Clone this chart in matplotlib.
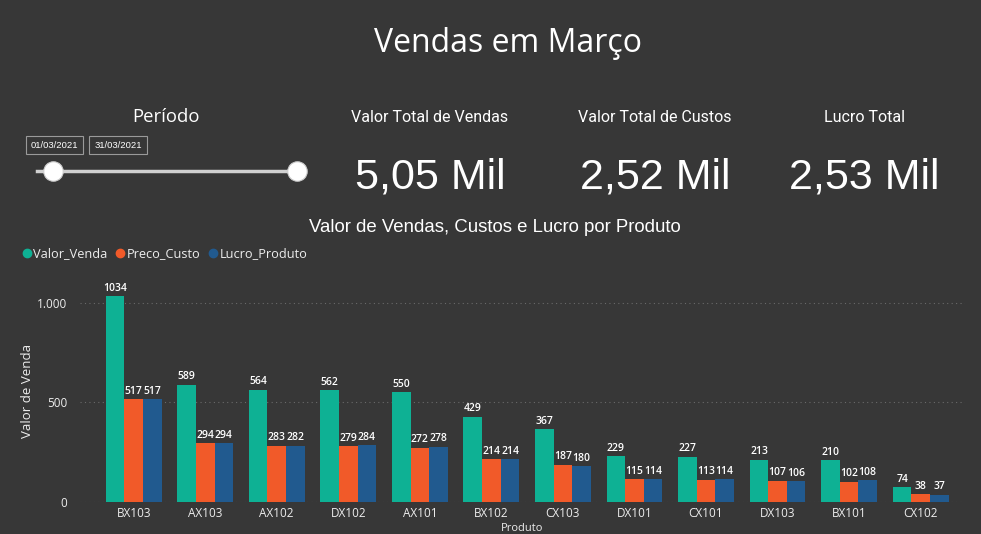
import numpy as np
import matplotlib.pyplot as plt
from matplotlib.patches import Rectangle
from matplotlib.lines import Line2D

produtos = ["BX103", "AX103", "AX102", "DX102", "AX101", "BX102",
            "CX103", "DX101", "CX101", "DX103", "BX101", "CX102"]
valor_venda = [1034, 589, 564, 562, 550, 429, 367, 229, 227, 213, 210, 74]
preco_custo = [517, 294, 283, 279, 272, 214, 187, 115, 113, 107, 102, 38]
lucro_produto = [517, 294, 282, 284, 278, 214, 180, 114, 114, 106, 108, 37]
series_names = ["Valor_Venda", "Preco_Custo", "Lucro_Produto"]
data_inicio = "01/03/2021"
data_fim = "31/03/2021"

BG = "#373737"
colors = ["#0EB194", "#F15A29", "#215A8F"]
TXT = "#EDEDED"

def fmt_mil(v):
    return f"{v / 1000:.2f}".replace(".", ",") + " Mil"

fig = plt.figure(figsize=(9.81, 5.34), dpi=100, facecolor=BG)

def px(x, y):
    return x / 981, 1 - y / 534

# header
fig.text(*px(508, 44), "Vendas em Março", ha="center", va="center",
         fontsize=23, color="white", family="Open Sans")

# period slicer
fig.text(*px(166, 117), "Período", ha="center", va="center",
         fontsize=13.3, color="white", family="Open Sans")
for x0, x1, lab in [(26, 83, data_inicio), (89, 147, data_fim)]:
    fig.patches.append(Rectangle(px(x0, 154), (x1 - x0) / 981, 18 / 534,
                                 transform=fig.transFigure, fill=False,
                                 edgecolor="#9A9A9A", lw=0.8))
    fig.text(*px((x0 + x1) / 2, 145), lab, ha="center", va="center",
             fontsize=6.8, color="white", family="Liberation Sans")
fig.lines.append(Line2D([37 / 981, 297 / 981], [1 - 171 / 534] * 2,
                        transform=fig.transFigure, color="#D0D0D0", lw=2.5))
for cx in (53, 297):
    fig.lines.append(Line2D([cx / 981], [1 - 171 / 534], transform=fig.transFigure,
                            marker="o", markersize=14, markerfacecolor="white",
                            markeredgecolor="#CCCCCC", markeredgewidth=0.8, ls=""))

# KPI cards
kpis = [("Valor Total de Vendas", sum(valor_venda), 430),
        ("Valor Total de Custos", sum(preco_custo), 655),
        ("Lucro Total", sum(lucro_produto), 864)]
for lab, val, cx in kpis:
    fig.text(*px(cx, 118), lab, ha="center", va="center",
             fontsize=11.5, color="white", family="Roboto")
    fig.text(*px(cx, 177), fmt_mil(val), ha="center", va="center",
             fontsize=31, color="white", family="Liberation Sans")

# chart
fig.text(*px(495, 227), "Valor de Vendas, Custos e Lucro por Produto",
         ha="center", va="center", fontsize=13.4, color="white",
         family="Liberation Sans")
ax = fig.add_axes([80 / 981, 32 / 534, 885 / 981, 223 / 534])
ax.set_facecolor(BG)

x = np.arange(len(produtos))
w = 0.26
for i, (vals, c) in enumerate(zip([valor_venda, preco_custo, lucro_produto], colors)):
    bars = ax.bar(x + (i - 1) * w, vals, w, color=c, label=series_names[i])
    for b, v in zip(bars, vals):
        ax.text(b.get_x() + b.get_width() / 2, v + 12, str(v), ha="center",
                va="bottom", fontsize=7.5, color="white", fontweight="semibold",
                family="Open Sans")

ax.set_xlim(-0.75, 11.62)
ax.set_ylim(0, 1120)
ax.set_yticks([0, 500, 1000])
ax.set_yticklabels(["0", "500", "1.000"])
ax.set_xticks(x)
ax.set_xticklabels(produtos)
ax.tick_params(length=0, colors=TXT, labelsize=8.5)
ax.tick_params(axis="y", pad=9)
for lbl in ax.get_xticklabels() + ax.get_yticklabels():
    lbl.set_family("Open Sans")
ax.yaxis.grid(True, linestyle=(0, (1, 3)), color="#6A6A6A", lw=0.8)
ax.set_axisbelow(True)
for s in ax.spines.values():
    s.set_visible(False)
ax.set_ylabel("Valor de Venda", color=TXT, fontsize=9.5, family="Open Sans")
ax.yaxis.set_label_coords(-0.052, 0.5)
ax.set_xlabel("Produto", color=TXT, fontsize=8, family="Open Sans", labelpad=2)

handles = [Line2D([], [], marker="o", ls="", color=c, markersize=6) for c in colors]
fig.legend(handles, series_names, loc="center left", bbox_to_anchor=px(9, 254),
           ncol=3, frameon=False, handletextpad=0.0, columnspacing=0.5,
           handlelength=1.0, prop={"family": "Open Sans", "size": 9.2},
           labelcolor=TXT)

fig.savefig("out.png", dpi=100, facecolor=BG)
